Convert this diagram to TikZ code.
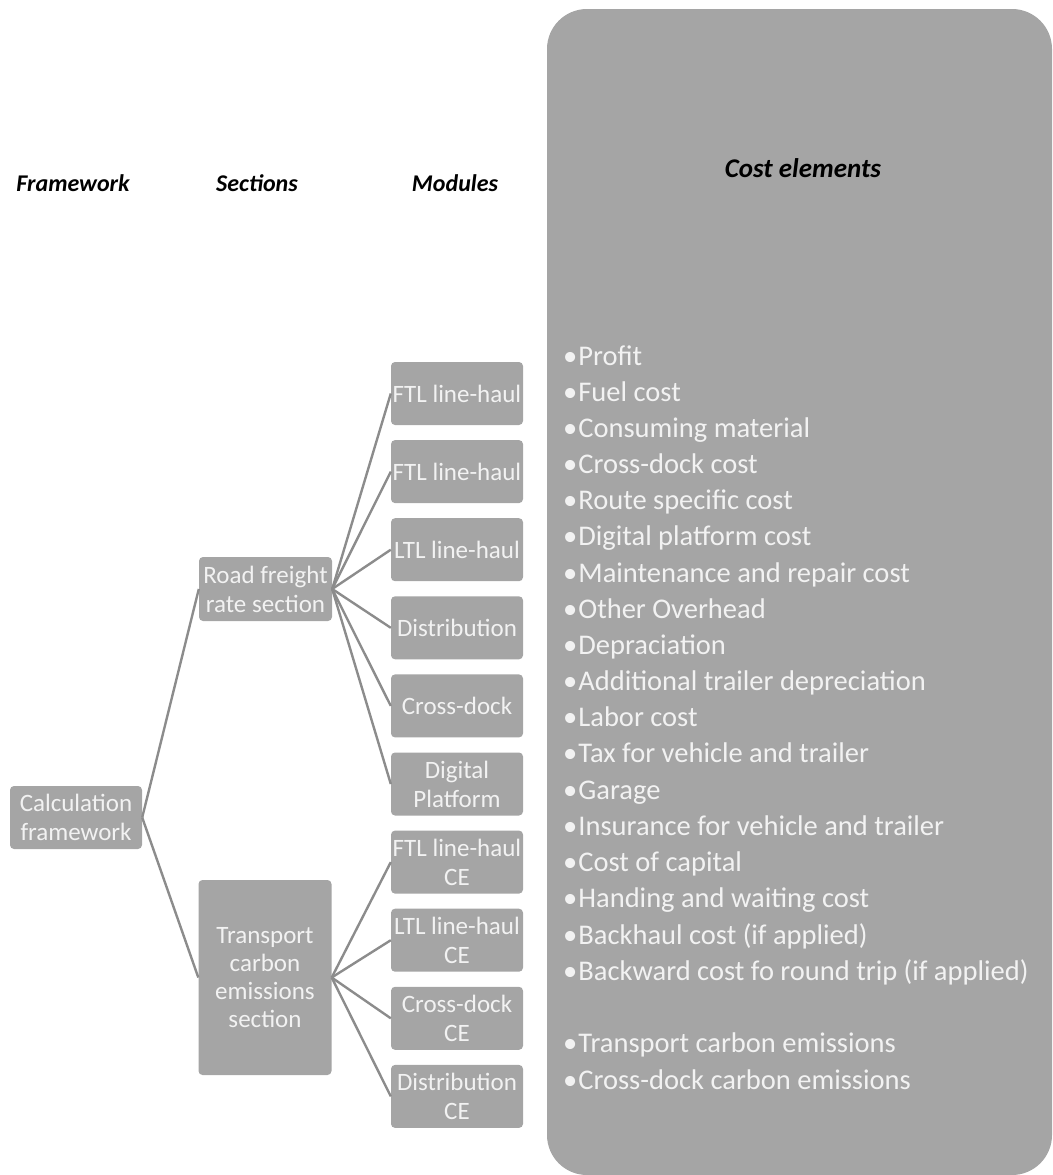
\documentclass[tikz,border=0pt]{standalone}
\usepackage{fontspec}
\setmainfont{Carlito}
\definecolor{boxgray}{RGB}{165,165,165}
\definecolor{linegray}{RGB}{140,140,140}
\definecolor{boxtext}{RGB}{242,242,242}
\tikzset{
  modbox/.style={fill=boxgray, rounded corners=4pt, minimum width=132pt, minimum height=63pt,
    inner sep=0pt, align=center, text=boxtext, font=\fontsize{25}{29}\selectfont},
  head/.style={font=\fontsize{24}{28}\selectfont\bfseries\itshape},
  conn/.style={draw=linegray, line width=2.4pt},
  item/.style={anchor=base west, inner sep=0pt, text=boxtext, font=\fontsize{28.5}{34}\selectfont}
}
\begin{document}
\begin{tikzpicture}[x=1pt,y=-1pt]
\useasboundingbox (0,0) rectangle (1052,1175);

% cost elements panel
\fill[boxgray, rounded corners=40pt] (547,9) rectangle (1052,1175);
\node[head, font=\fontsize{27}{31}\selectfont\bfseries\itshape] (costhead) at (803,168) {Cost elements};

% column headings
\node[head] (fwhead) at (73,183) {Framework};
\node[head] (sechead) at (257,183) {Sections};
\node[head] (modhead) at (455,183) {Modules};

% framework and sections
\node[modbox] (calc) at (76,817.5) {Calculation\\framework};
\node[modbox, minimum width=133pt, minimum height=64pt] (road) at (265.5,589) {Road freight\\rate section};
\node[modbox, minimum width=133pt, minimum height=195pt, font=\fontsize{25}{28}\selectfont] (trans) at (265,977.5) {Transport\\carbon\\emissions\\section};

% modules
\node[modbox] (ftla) at (457,393.5) {FTL line-haul};
\node[modbox] (ftlb) at (457,471.6) {FTL line-haul};
\node[modbox] (ltl) at (457,549.7) {LTL line-haul};
\node[modbox] (dist) at (457,627.8) {Distribution};
\node[modbox] (xdock) at (457,705.9) {Cross-dock};
\node[modbox] (digi) at (457,784) {Digital\\Platform};
\node[modbox] (ftlce) at (457,862.1) {FTL line-haul\\CE};
\node[modbox] (ltlce) at (457,940.2) {LTL line-haul\\CE};
\node[modbox] (xdockce) at (457,1018.3) {Cross-dock\\CE};
\node[modbox] (distce) at (457,1096.4) {Distribution\\CE};

% connectors
\draw[conn] (calc.east) -- (road.west);
\draw[conn] (calc.east) -- (trans.west);
\foreach \m in {ftla,ftlb,ltl,dist,xdock,digi}
  \draw[conn] (road.east) -- (\m.west);
\foreach \m in {ftlce,ltlce,xdockce,distce}
  \draw[conn] (trans.east) -- (\m.west);

% list of cost elements (baselines)
\foreach \y/\txt [count=\i] in {365/Profit, 401/Fuel cost, 437/Consuming material,
    473/Cross-dock cost, 509/Route specific cost, 545/Digital platform cost,
    582/Maintenance and repair cost, 618/Other Overhead, 654/Depraciation,
    690/Additional trailer depreciation, 726/Labor cost, 762/Tax for vehicle and trailer,
    799/Garage, 835/Insurance for vehicle and trailer, 871/Cost of capital,
    907/Handing and waiting cost, 944/Backhaul cost (if applied),
    980/Backward cost fo round trip (if applied), 1052/Transport carbon emissions,
    1089/Cross-dock carbon emissions}
  \node[item] (elem\i) at (563,\y) {\textbullet\hspace{1pt}\txt};
\end{tikzpicture}
\end{document}
